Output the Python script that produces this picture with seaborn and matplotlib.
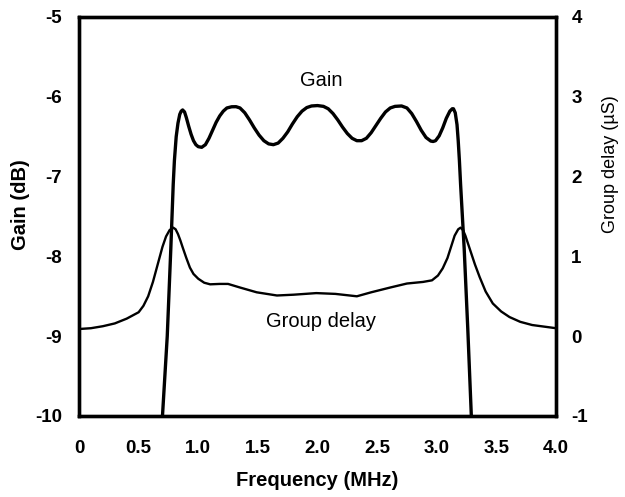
import matplotlib
matplotlib.use("Agg")
import matplotlib.pyplot as plt
import seaborn as sns
import pandas as pd

# Filter gain response (dB) versus frequency (MHz)
gain_freq = [0.70, 0.74, 0.77, 0.79, 0.80, 0.815, 0.83, 0.845, 0.857, 0.869,
             0.885, 0.90, 0.92, 0.94, 0.96, 0.98, 1.00, 1.029, 1.06, 1.09, 1.12, 1.15,
             1.18, 1.21, 1.24, 1.28, 1.317, 1.35, 1.39, 1.43, 1.47, 1.51, 1.55, 1.59,
             1.63, 1.67, 1.71, 1.75, 1.79, 1.83, 1.87, 1.91, 1.95, 2.00, 2.05, 2.09,
             2.13, 2.17, 2.21, 2.25, 2.29, 2.33, 2.37, 2.41, 2.45, 2.49, 2.53, 2.57,
             2.61, 2.65, 2.705, 2.75, 2.79, 2.83, 2.87, 2.91, 2.95, 2.97, 2.99, 3.02,
             3.05, 3.08, 3.11, 3.13, 3.14, 3.155, 3.17, 3.18, 3.19, 3.20, 3.23, 3.26, 3.29]
gain_db = [-10.0, -9.0, -7.9, -7.1, -6.8, -6.5, -6.33, -6.22, -6.18, -6.165,
           -6.19, -6.26, -6.37, -6.47, -6.55, -6.60, -6.625, -6.633, -6.6, -6.52, -6.42, -6.32,
           -6.24, -6.18, -6.14, -6.125, -6.124, -6.14, -6.2, -6.29, -6.39, -6.48, -6.55, -6.59,
           -6.60, -6.58, -6.52, -6.44, -6.34, -6.25, -6.18, -6.135, -6.115, -6.11, -6.12, -6.15,
           -6.21, -6.29, -6.38, -6.46, -6.52, -6.55, -6.55, -6.52, -6.45, -6.36, -6.27, -6.19,
           -6.14, -6.12, -6.115, -6.14, -6.21, -6.31, -6.42, -6.51, -6.555, -6.56, -6.55, -6.49,
           -6.39, -6.27, -6.18, -6.15, -6.15, -6.2, -6.35, -6.55, -6.8, -7.1, -7.9, -8.9, -10.0]

# Group delay (µs) versus frequency (MHz)
delay_freq = [0.0, 0.1, 0.2, 0.3, 0.35, 0.4, 0.45, 0.5, 0.54, 0.58, 0.62, 0.66, 0.70,
              0.73, 0.76, 0.79, 0.81, 0.83, 0.85, 0.87, 0.90, 0.93, 0.96, 1.00, 1.05,
              1.10, 1.18, 1.25, 1.35, 1.49, 1.66, 1.80, 1.99, 2.15, 2.33, 2.45, 2.61,
              2.75, 2.885, 2.96, 3.01, 3.05, 3.09, 3.12, 3.15, 3.18, 3.20, 3.22, 3.24,
              3.26, 3.28, 3.32, 3.36, 3.41, 3.47, 3.54, 3.61, 3.70, 3.80, 3.90, 4.0]
delay_us = [0.09, 0.10, 0.125, 0.16, 0.19, 0.22, 0.26, 0.30, 0.38, 0.50, 0.68, 0.90, 1.12,
            1.25, 1.33, 1.36, 1.34, 1.28, 1.20, 1.11, 0.98, 0.86, 0.78, 0.72, 0.67,
            0.65, 0.655, 0.655, 0.61, 0.55, 0.51, 0.52, 0.54, 0.53, 0.50, 0.55, 0.61,
            0.66, 0.68, 0.70, 0.76, 0.85, 0.98, 1.12, 1.26, 1.34, 1.36, 1.33, 1.26,
            1.17, 1.08, 0.90, 0.74, 0.56, 0.41, 0.31, 0.24, 0.18, 0.14, 0.12, 0.10]

x_ticks = [0, 0.5, 1.0, 1.5, 2.0, 2.5, 3.0, 3.5, 4.0]
x_ticklabels = ["0", "0.5", "1.0", "1.5", "2.0", "2.5", "3.0", "3.5", "4.0"]
gain_ticks = [-10, -9, -8, -7, -6, -5]
delay_ticks = [-1, 0, 1, 2, 3, 4]

sns.set_style("white")
plt.rcParams["font.family"] = ["Liberation Sans", "DejaVu Sans"]
plt.rcParams["axes.unicode_minus"] = False
plt.rcParams["text.color"] = "black"
plt.rcParams["axes.labelcolor"] = "black"

fig = plt.figure(figsize=(6.25, 4.97), dpi=100)
ax = fig.add_axes([0.1264, 0.163, 0.7632, 0.8028])
ax2 = ax.twinx()

gain_df = pd.DataFrame({"freq": gain_freq, "gain": gain_db})
delay_df = pd.DataFrame({"freq": delay_freq, "delay": delay_us})

sns.lineplot(data=gain_df, x="freq", y="gain", ax=ax, color="black", lw=2.4,
             sort=False, estimator=None, solid_joinstyle="round", solid_capstyle="butt")
sns.lineplot(data=delay_df, x="freq", y="delay", ax=ax2, color="black", lw=1.7,
             sort=False, estimator=None, solid_joinstyle="round")

ax.set_xlim(0, 4.0)
ax.set_ylim(-10, -5)
ax2.set_ylim(-1, 4)

ax.set_xticks(x_ticks)
ax.set_xticklabels(x_ticklabels)
ax.set_yticks(gain_ticks)
ax2.set_yticks(delay_ticks)

for a in (ax, ax2):
    for s in a.spines.values():
        s.set_linewidth(2.4)
        s.set_color("black")
    a.tick_params(length=0, labelsize=13.5, colors="black")
    for lbl in a.get_xticklabels() + a.get_yticklabels():
        lbl.set_fontweight("bold")

ax.tick_params(axis="y", pad=12)
ax.tick_params(axis="x", pad=17)
ax2.tick_params(axis="y", pad=11)

ax.set_xlabel("Frequency (MHz)", fontsize=14.5, fontweight="bold", color="black")
ax.xaxis.set_label_coords(0.5, -0.138)
ax.set_ylabel("Gain (dB)", fontsize=14.5, fontweight="bold", color="black")
ax.yaxis.set_label_coords(-0.102, 0.53)
ax2.set_ylabel("Group delay (µS)", fontsize=13, rotation=90, color="black")
ax2.yaxis.set_label_coords(1.096, 0.63)

ax.text(2.03, -5.80, "Gain", fontsize=14.5, ha="center", va="center", color="black")
ax.text(2.03, -8.82, "Group delay", fontsize=14.5, ha="center", va="center", color="black")

fig.savefig("out.png", dpi=100)
